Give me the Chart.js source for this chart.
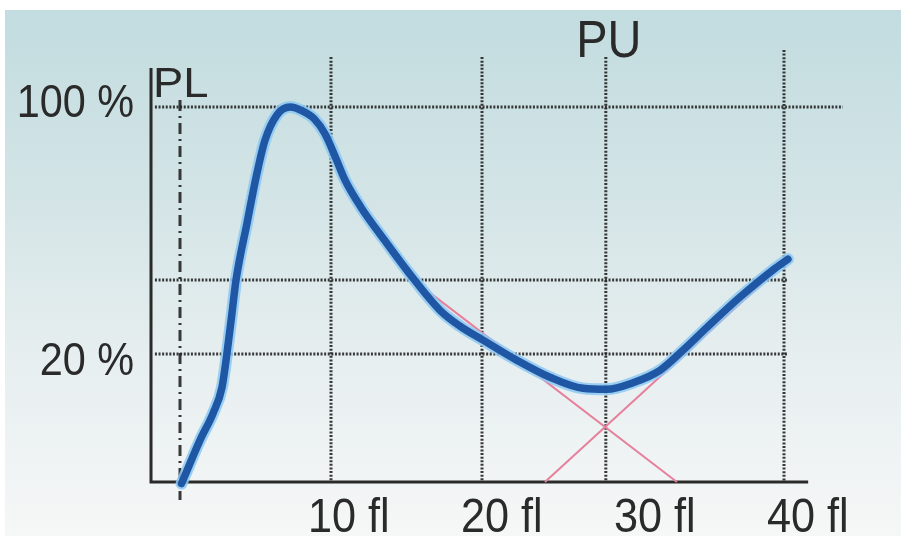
<!DOCTYPE html>
<html>
<head>
<meta charset="utf-8">
<script src="https://cdn.jsdelivr.net/npm/chart.js@4/dist/chart.umd.min.js"></script>
<style>
  html, body { margin: 0; padding: 0; background: #ffffff; }
  #wrap { width: 901px; height: 536px; position: relative; }
</style>
</head>
<body>
<div id="wrap"><canvas id="c"></canvas></div>
<script>
// ---- data (volume in fl, relative frequency in %) ----
const curveFl  = [0.1, 1.32, 2.19, 2.78, 3.11, 3.44, 3.71, 4.44, 5.10, 5.63, 6.42, 7.3, 8.1, 8.9, 9.6, 10.3, 10.93, 11.99, 13.51, 15.17, 17.22, 18.54, 20.07, 22.32, 24.50, 26.69, 28.28, 30.0, 31.79, 33.31, 34.90, 37.09, 39.27, 40.26];
const curvePct = [8.6, 11.4, 13.6, 16.1, 20.1, 26.1, 32.4, 47.0, 65.1, 80.6, 95.0, 100, 97.5, 92.5, 84.0, 72.0, 62.1, 52.0, 42.2, 33.9, 26.6, 24.0, 21.9, 19.2, 17.2, 16.0, 15.9, 16.6, 18.0, 20.5, 23.8, 29.0, 34.6, 37.1];

const fallLineFl  = [16.56, 32.91];
const fallLinePct = [29.8, 8.69];
const riseLineFl  = [24.17, 40.07];
const riseLinePct = [8.69, 36.4];

const xTickValues = [10, 20, 30, 40];
const xTickLabels = ['10 fl', '20 fl', '30 fl', '40 fl'];
const xGridValues = [10, 20, 40];
const plValue = 0,   plLabel = 'PL';
const puValue = 28.2, puLabel = 'PU';
const yGridValues = [100, 32.4, 20];
const yTickValues = [100, 20];
const yTickLabels = ['100 %', '20 %'];
const yBase = 8.69;       // value where the volume axis sits
const xStart = -1.92;     // position of the frequency axis

const toXY = (xs, ys) => xs.map((x, i) => ({ x: x, y: ys[i] }));

const FONT = '"Liberation Sans", Arial, sans-serif';
const INK = '#2a2a2a';

function drawText(ctx, text, x, y, align, size, sx) {
  ctx.save();
  ctx.font = size + 'px ' + FONT;
  ctx.textAlign = align;
  ctx.textBaseline = 'alphabetic';
  ctx.translate(x, y);
  ctx.scale(sx, 1);
  ctx.fillText(text, 0, 0);
  ctx.restore();
}

const decor = {
  id: 'decor',
  beforeDraw(chart) {
    const ctx = chart.ctx;
    ctx.save();
    ctx.fillStyle = '#ffffff';
    ctx.fillRect(0, 0, chart.width, chart.height);
    const g = ctx.createLinearGradient(0, 10, 0, chart.height);
    g.addColorStop(0, '#c2dcdf');
    g.addColorStop(0.35, '#d3e4e6');
    g.addColorStop(0.65, '#e6eeef');
    g.addColorStop(1, '#f6f7f7');
    ctx.fillStyle = g;
    ctx.fillRect(5, 10, chart.width - 5, chart.height - 10);
    ctx.restore();
  },
  beforeDatasetsDraw(chart) {
    const ctx = chart.ctx, xs = chart.scales.x, ys = chart.scales.y;
    const px = v => xs.getPixelForValue(v), py = v => ys.getPixelForValue(v);
    ctx.save();
    // dotted grid
    ctx.strokeStyle = 'rgba(35,35,35,0.9)';
    ctx.lineWidth = 3;
    ctx.setLineDash([2, 1.6]);
    xGridValues.forEach(v => {
      const top = v === 40 ? 145 : 138.5;
      ctx.beginPath(); ctx.moveTo(px(v), py(top)); ctx.lineTo(px(v), py(yBase)); ctx.stroke();
    });
    ctx.beginPath(); ctx.moveTo(px(puValue), py(138.5)); ctx.lineTo(px(puValue), py(yBase)); ctx.stroke();
    yGridValues.forEach(v => {
      const end = v === 100 ? 43.9 : 40.2;
      ctx.beginPath(); ctx.moveTo(px(-1.66), py(v)); ctx.lineTo(px(end), py(v)); ctx.stroke();
    });
    // PL dash-dot line
    ctx.lineWidth = 3;
    ctx.setLineDash([11, 5, 2, 5]);
    ctx.beginPath(); ctx.moveTo(px(plValue), py(104.7)); ctx.lineTo(px(plValue), py(7.73)); ctx.stroke();
    // axes
    ctx.setLineDash([]);
    ctx.strokeStyle = '#2a2a2a';
    ctx.lineWidth = 3;
    ctx.beginPath();
    ctx.moveTo(px(xStart), py(128.9));
    ctx.lineTo(px(xStart), py(yBase));
    ctx.lineTo(px(41.6), py(yBase));
    ctx.stroke();
    ctx.restore();
  },
  afterDatasetsDraw(chart) {
    const ctx = chart.ctx, xs = chart.scales.x, ys = chart.scales.y;
    const px = v => xs.getPixelForValue(v), py = v => ys.getPixelForValue(v);
    ctx.save();
    ctx.fillStyle = INK;
    // volume labels
    xTickValues.forEach((v, i) => {
      drawText(ctx, xTickLabels[i], px(v) - 23 + i * 2, 532, 'left', 48, 0.9);
    });
    // frequency labels
    const nudge = [10, 21];
    yTickValues.forEach((v, i) => {
      drawText(ctx, yTickLabels[i], px(xStart) - 17, py(v) + nudge[i], 'right', 46, 0.9);
    });
    // PL / PU
    drawText(ctx, plLabel, px(plValue) - 27, 97, 'left', 42, 1.08);
    drawText(ctx, puLabel, px(puValue) + 3, 57, 'center', 51, 0.92);
    ctx.restore();
  }
};

new Chart(document.getElementById('c'), {
  type: 'line',
  data: {
    datasets: [
      { data: toXY(curveFl, curvePct), borderColor: '#1f57a4', borderWidth: 7.5,
        cubicInterpolationMode: 'monotone', pointRadius: 0, borderCapStyle: 'round', borderJoinStyle: 'round' },
      { data: toXY(curveFl, curvePct), borderColor: 'rgba(140,200,242,0.85)', borderWidth: 12,
        cubicInterpolationMode: 'monotone', pointRadius: 0, borderCapStyle: 'round', borderJoinStyle: 'round' },
      { data: toXY(fallLineFl, fallLinePct), borderColor: '#e6809c', borderWidth: 2, pointRadius: 0 },
      { data: toXY(riseLineFl, riseLinePct), borderColor: '#e6809c', borderWidth: 2, pointRadius: 0 }
    ]
  },
  options: {
    responsive: true,
    maintainAspectRatio: false,
    animation: false,
    events: [],
    layout: { padding: { left: 151, right: 56, top: 45, bottom: 36 } },
    plugins: { legend: { display: false }, tooltip: { enabled: false } },
    scales: {
      x: { type: 'linear', min: -1.921, max: 44.04, display: false },
      y: { type: 'logarithmic', min: 7.73, max: 149.8, display: false }
    }
  },
  plugins: [decor]
});
</script>
</body>
</html>
